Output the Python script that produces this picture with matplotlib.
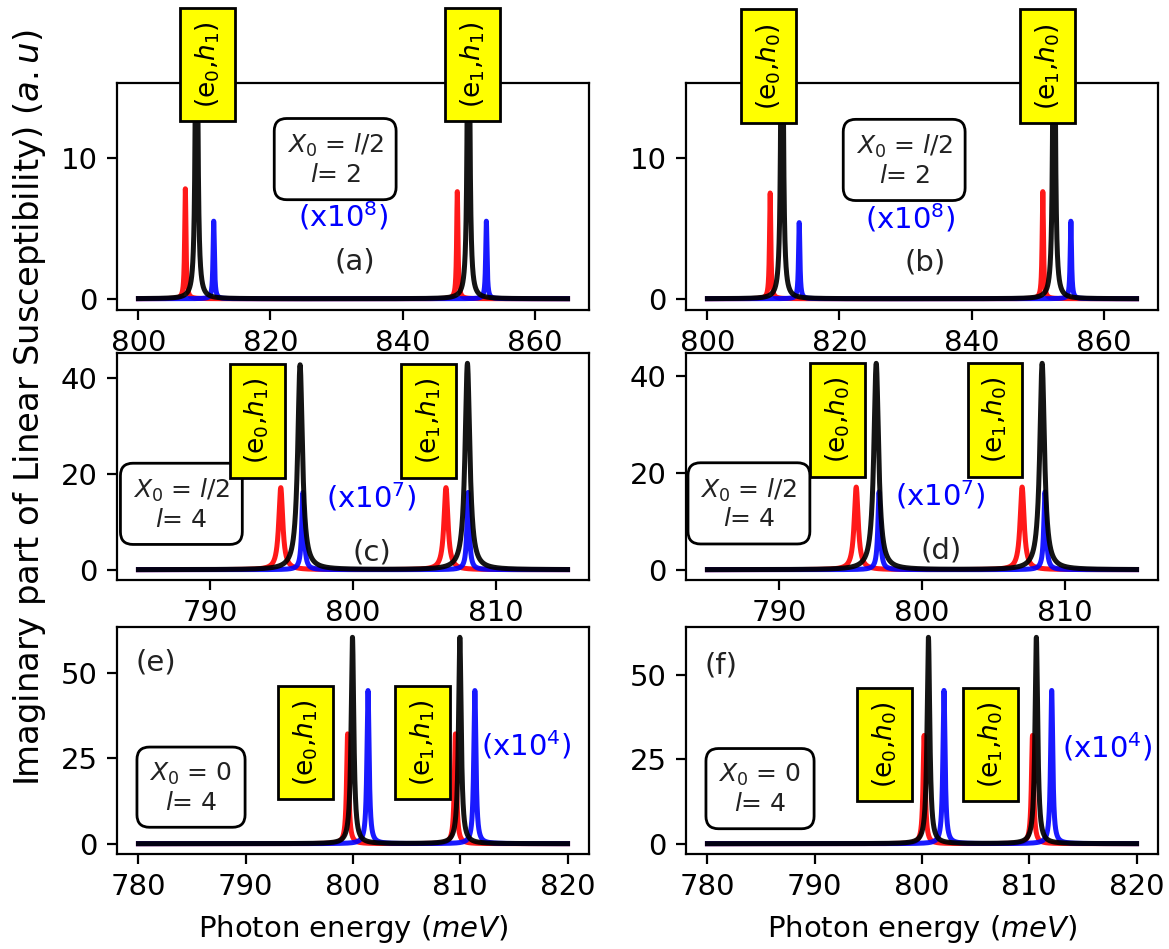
import numpy as np
import matplotlib
matplotlib.use("Agg")
import matplotlib.pyplot as plt

# ---------------- data ----------------
panel_letters = ["(a)", "(b)", "(c)", "(d)", "(e)", "(f)"]
x_start = [800, 800, 785, 785, 780, 780]
x_end = [865, 865, 815, 815, 820, 820]

red_centers = [[807.1, 848.3], [809.5, 850.8], [794.95, 806.5],
               [795.4, 807.0], [799.5, 809.55], [800.2, 810.3]]
red_heights = [[7.8, 7.6], [7.5, 7.6], [17.1, 17.1],
               [17.1, 17.1], [32.2, 32.2], [32.0, 32.0]]
red_gamma = [0.12, 0.12, 0.17, 0.17, 0.12, 0.12]

black_centers = [[808.8, 850.0], [811.3, 852.5], [796.3, 808.0],
                 [796.8, 808.4], [799.95, 809.96], [800.6, 810.66]]
black_heights = [[40.0, 40.0], [40.0, 40.0], [42.7, 43.0],
                 [42.7, 42.7], [60.5, 60.5], [61.0, 61.0]]
black_gamma = [0.15, 0.15, 0.2, 0.2, 0.15, 0.15]

blue_centers = [[811.4, 852.7], [813.9, 855.05], [796.5, 808.05],
                [797.0, 808.6], [801.4, 811.36], [802.05, 812.09]]
blue_heights = [[5.5, 5.5], [5.4, 5.5], [16.1, 16.1],
                [16.1, 16.1], [44.9, 44.9], [45.3, 45.3]]
blue_gamma = [0.12, 0.12, 0.1, 0.1, 0.12, 0.12]

y_ticks = [[0, 10], [0, 10], [0, 20, 40], [0, 20, 40],
           [0, 25, 50], [0, 25, 50]]

state_labels = [["(e$_0$,$h_1$)", "(e$_1$,$h_1$)"],
                ["(e$_0$,$h_0$)", "(e$_1$,$h_0$)"],
                ["(e$_0$,$h_1$)", "(e$_1$,$h_1$)"],
                ["(e$_0$,$h_0$)", "(e$_1$,$h_0$)"],
                ["(e$_0$,$h_1$)", "(e$_1$,$h_1$)"],
                ["(e$_0$,$h_0$)", "(e$_1$,$h_0$)"]]
state_x = [[810.5, 850.6], [809.3, 851.5], [793.3, 805.3],
           [794.1, 805.1], [795.6, 806.5], [796.5, 806.4]]
state_y = [16.6, 16.5, 31.0, 31.0, 29.7, 29.3]

info_texts = ["$X_0$ = $l$/2\n$l$= 2", "$X_0$ = $l$/2\n$l$= 2",
              "$X_0$ = $l$/2\n$l$= 4", "$X_0$ = $l$/2\n$l$= 4",
              "$X_0$ = 0\n$l$= 4", "$X_0$ = 0\n$l$= 4"]
info_x = [829.8, 829.8, 788.0, 787.9, 784.9, 784.9]
info_y = [9.86, 9.8, 13.6, 13.6, 16.4, 16.1]

scale_texts = ["(x10$^8$)", "(x10$^8$)", "(x10$^7$)", "(x10$^7$)",
               "(x10$^4$)", "(x10$^4$)"]
scale_x = [831.1, 830.8, 801.3, 801.3, 816.2, 817.3]
scale_y = [5.86, 5.7, 15.1, 15.5, 28.9, 28.5]

letter_x = [832.7, 832.9, 801.3, 801.35, 781.6, 781.3]
letter_y = [2.65, 2.55, 3.6, 3.9, 53.2, 52.6]

ylims = [(-0.8, 15.3), (-0.8, 15.3), None, None, None, None]


def spectrum(x, centers, heights, gamma):
    y = np.zeros_like(x)
    for c, h in zip(centers, heights):
        y += h / (1.0 + ((x - c) / gamma) ** 2)
    return y


# ---------------- figure ----------------
W, H = 1169, 949
DPI = 200
fig = plt.figure(figsize=(W / DPI, H / DPI), dpi=DPI)

col_left = [117, 686]
col_w = 472
row_top = [83, 353, 627]
row_h = 227

for i in range(6):
    r, c = divmod(i, 2)
    left = col_left[c] / W
    bottom = 1 - (row_top[r] + row_h) / H
    ax = fig.add_axes([left, bottom, col_w / W, row_h / H])

    x = np.linspace(x_start[i], x_end[i], 8001)
    yr = spectrum(x, red_centers[i], red_heights[i], red_gamma[i])
    yb = spectrum(x, blue_centers[i], blue_heights[i], blue_gamma[i])
    yk = spectrum(x, black_centers[i], black_heights[i], black_gamma[i])
    ax.plot(x, yr, color="red", lw=1.8, alpha=0.9)
    ax.plot(x, yb, color="blue", lw=1.8, alpha=0.9)
    ax.plot(x, yk, color="black", lw=1.8, alpha=0.92)
    if ylims[i] is not None:
        ax.set_ylim(*ylims[i])
    ax.set_yticks(y_ticks[i])

    ax.tick_params(labelsize=10.5)

    for lab, sx in zip(state_labels[i], state_x[i]):
        ax.text(sx, state_y[i], lab, rotation=90, ha="center", va="center",
                fontsize=9.5, zorder=10, clip_on=False,
                bbox=dict(boxstyle="square,pad=0.5", facecolor="yellow",
                          edgecolor="black", linewidth=1.0))

    ax.text(info_x[i], info_y[i], info_texts[i], ha="center", va="center",
            multialignment="center", fontsize=9, color="#222222",
            bbox=dict(boxstyle="round,pad=0.5", facecolor="white",
                      edgecolor="black", linewidth=1.0))

    ax.text(scale_x[i], scale_y[i], scale_texts[i], ha="center", va="center",
            fontsize=10.5, color="blue")
    ax.text(letter_x[i], letter_y[i], panel_letters[i], ha="center",
            va="center", fontsize=10.5, color="#222222")

    if r == 2:
        ax.set_xlabel("Photon energy ($meV$)", fontsize=10.5)

fig.text(30 / W, 1 - 408 / H,
         "Imaginary part of Linear Susceptibility) ($a.u$)",
         rotation=90, ha="center", va="center", fontsize=12.2)

fig.savefig("out.png", dpi=DPI)
